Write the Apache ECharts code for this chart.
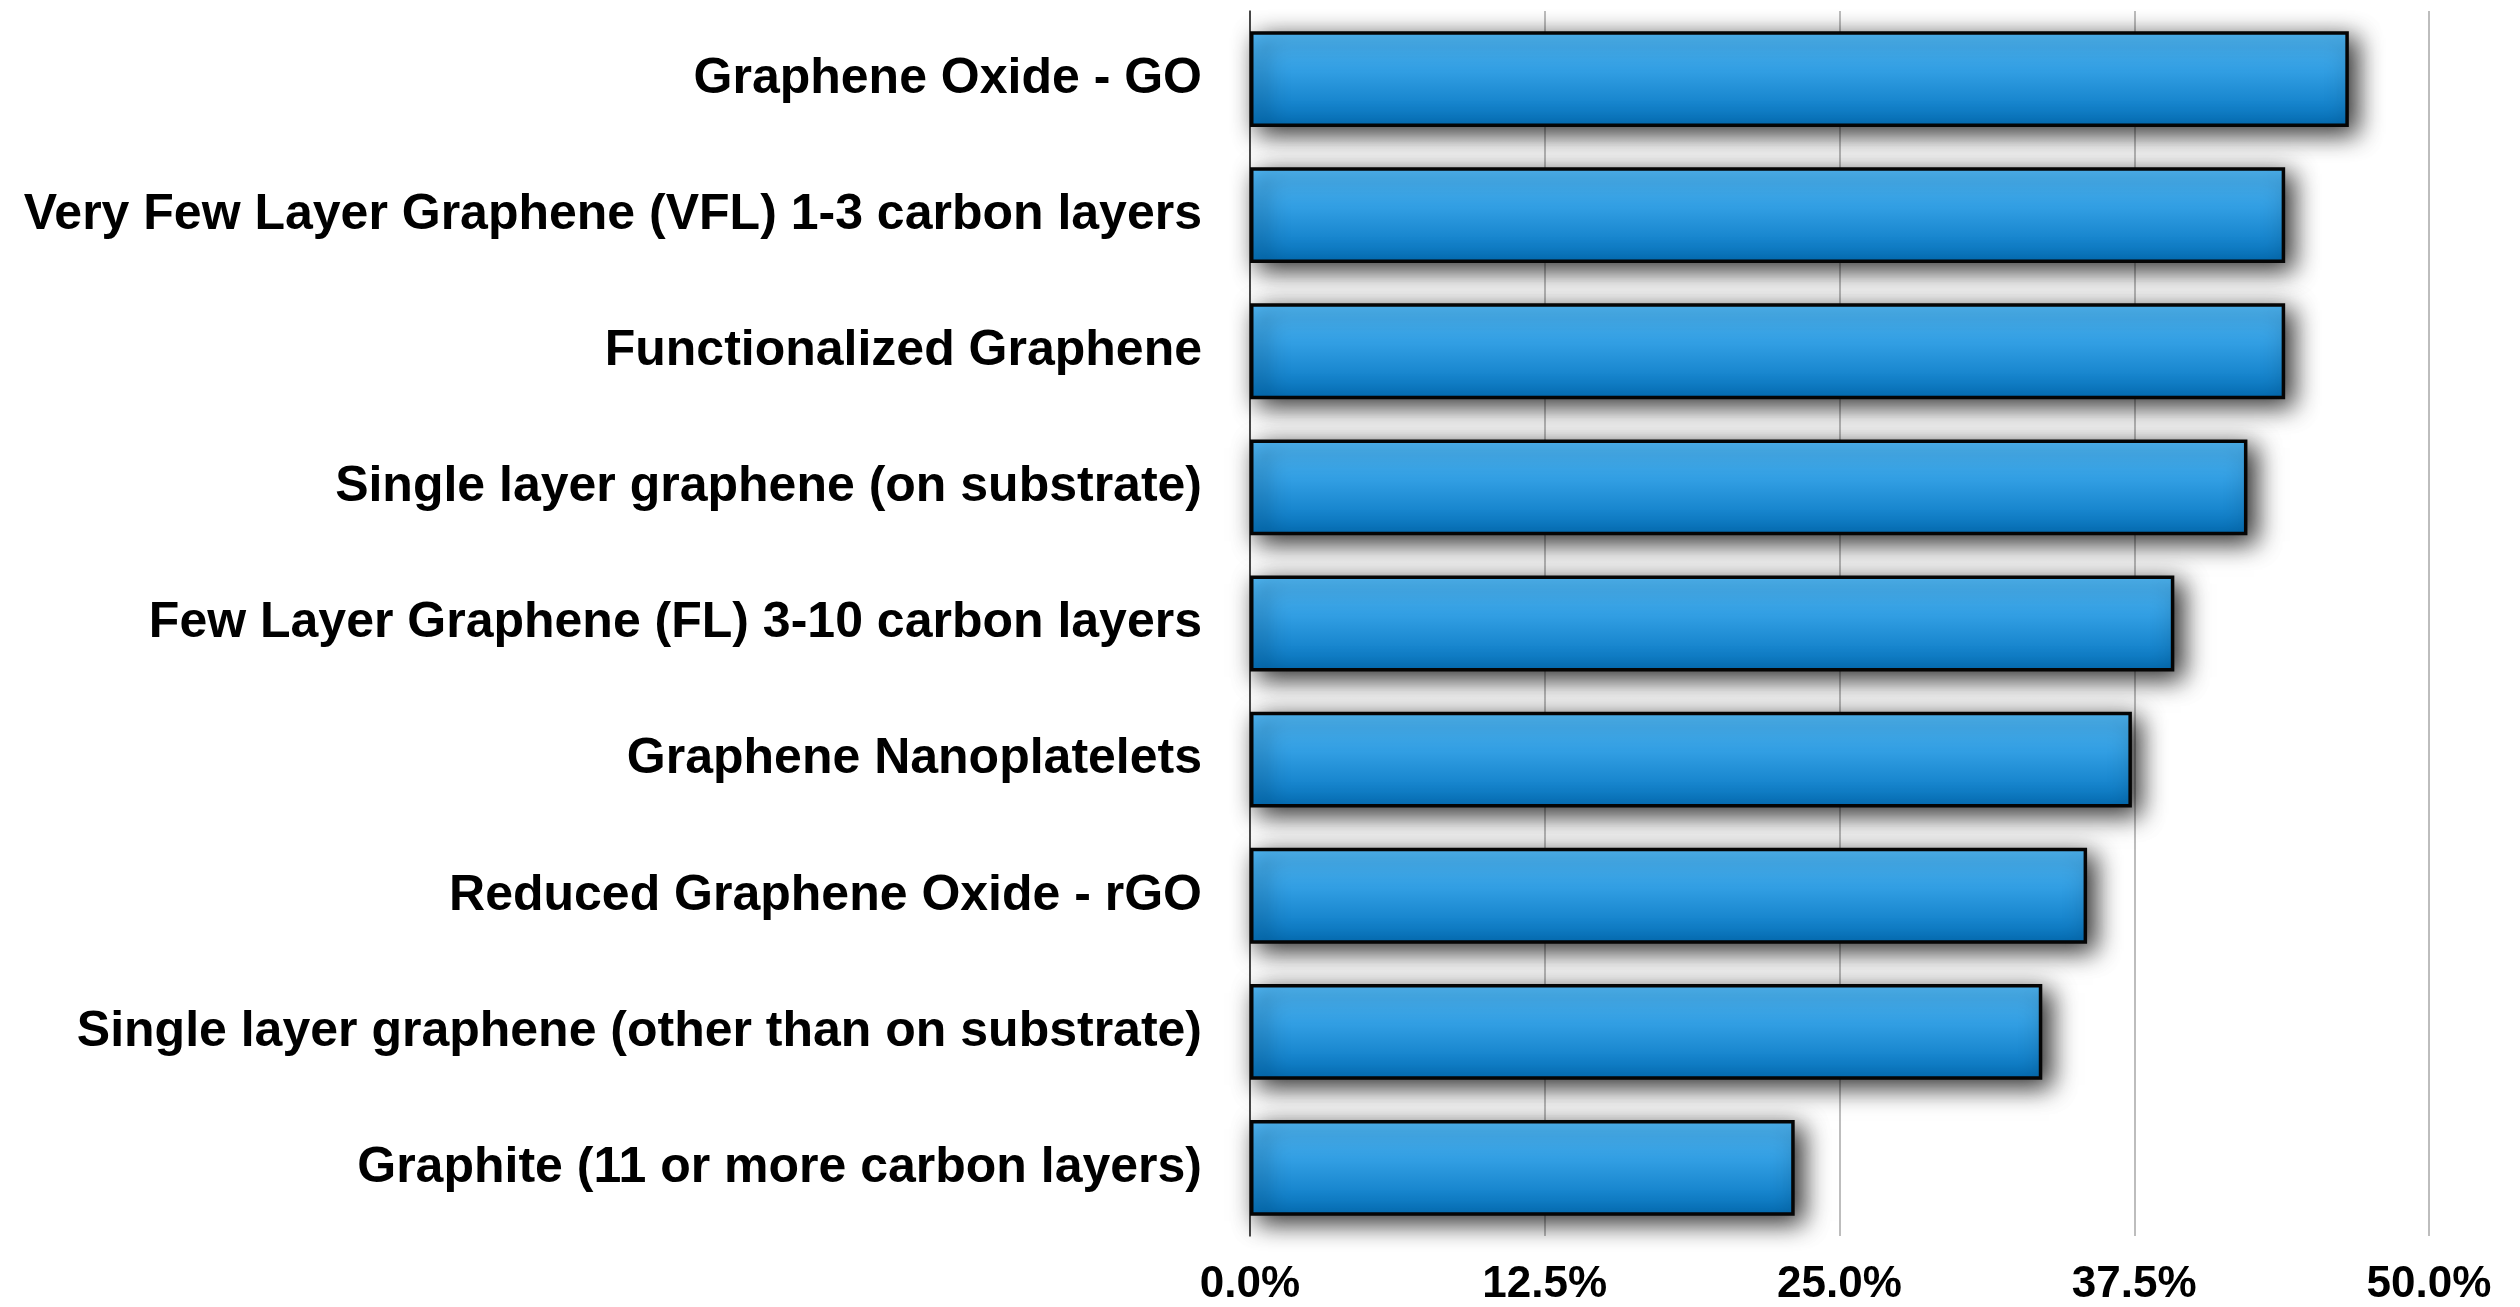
<!DOCTYPE html>
<html>
<head>
<meta charset="utf-8">
<title>Graphene product types</title>
<script src="https://cdn.jsdelivr.net/npm/echarts@6/dist/echarts.min.js"></script>
<style>
  html, body { margin: 0; padding: 0; background: #ffffff; }
  #chart { width: 2520px; height: 1307px; }
</style>
</head>
<body>
<div id="chart"></div>
<script>
// Product categories, listed top to bottom
const categories = [
  'Graphene Oxide - GO',
  'Very Few Layer Graphene (VFL) 1-3 carbon layers',
  'Functionalized Graphene',
  'Single layer graphene (on substrate)',
  'Few Layer Graphene (FL) 3-10 carbon layers',
  'Graphene Nanoplatelets',
  'Reduced Graphene Oxide - rGO',
  'Single layer graphene (other than on substrate)',
  'Graphite (11 or more carbon layers)'
];

// Share of respondents, percent
const shares = [46.6, 43.9, 43.9, 42.3, 39.2, 37.4, 35.5, 33.6, 23.1];

// Value axis ticks
const axisMin = 0;
const axisMax = 50;
const axisStep = 12.5;

const fontStack = "'Helvetica Neue', Helvetica, 'Liberation Sans', Arial, sans-serif";

const chart = echarts.init(document.getElementById('chart'), null, { renderer: 'canvas' });

chart.setOption({
  backgroundColor: '#ffffff',
  animation: false,
  grid: { left: 1250, right: 91, top: 11, bottom: 67, containLabel: false },
  xAxis: {
    type: 'value',
    min: axisMin,
    max: axisMax,
    interval: axisStep,
    axisLine: { show: false },
    axisTick: { show: false },
    splitLine: { show: true, lineStyle: { color: '#bdbdbd', width: 2 } },
    axisLabel: {
      margin: 27,
      color: '#000',
      fontSize: 44,
      fontWeight: 'bold',
      fontFamily: fontStack,
      formatter: v => v.toFixed(1) + '%'
    }
  },
  yAxis: {
    type: 'category',
    data: categories,
    inverse: true,
    axisLine: { show: true, lineStyle: { color: '#222', width: 1.5 } },
    axisTick: { show: false },
    splitLine: { show: false },
    axisLabel: {
      margin: 48,
      color: '#000',
      fontSize: 50,
      fontWeight: 'bold',
      fontFamily: fontStack
    }
  },
  series: [{
    type: 'bar',
    data: shares,
    barCategoryGap: '29.6%',
    itemStyle: {
      color: new echarts.graphic.LinearGradient(0, 0, 0, 1, [
        { offset: 0, color: '#53befe' },
        { offset: 1, color: '#0372bd' }
      ]),
      borderColor: '#050505',
      borderWidth: 3.5,
      shadowColor: 'rgba(0,0,0,0.85)',
      shadowBlur: 24,
      shadowOffsetX: 8,
      shadowOffsetY: 7
    }
  }]
});
</script>
</body>
</html>
